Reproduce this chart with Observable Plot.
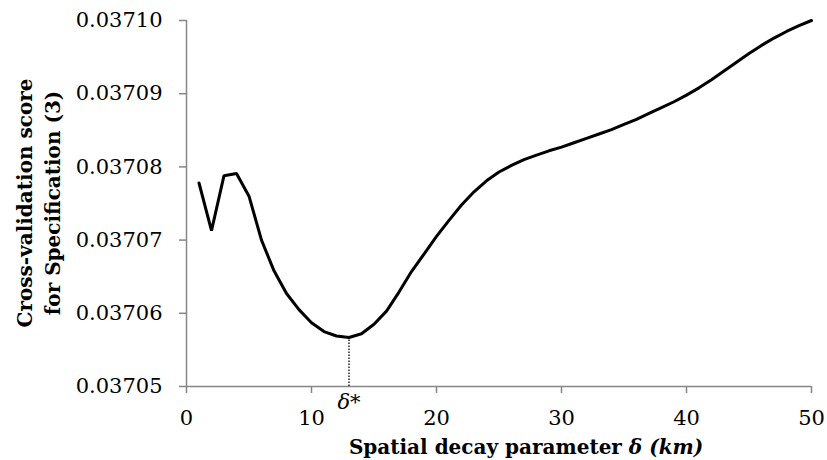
<!DOCTYPE html>
<html><head><meta charset="utf-8">
<script src="https://cdn.jsdelivr.net/npm/d3@7"></script>
<script src="https://cdn.jsdelivr.net/npm/@observablehq/plot@0.6"></script>
<style>body{margin:0;background:#fff} svg{display:block}</style>
</head><body><div id="chart"></div>
<script>
// Spatial decay parameter δ (km)
const delta = [1,2,3,4,5,6,7,8,9,10,11,12,13,14,15,16,17,18,19,20,21,22,23,24,25,26,27,28,29,30,31,32,33,34,35,36,37,38,39,40,41,42,43,44,45,46,47,48,49,50];
// Cross-validation score for Specification (3)
const score = [0.0370778,0.0370713,0.0370788,0.0370791,0.0370760,0.0370700,0.0370658,0.0370627,0.0370605,0.0370587,0.0370575,0.0370569,0.0370567,0.0370572,0.0370585,0.0370603,0.0370629,0.0370657,0.0370681,0.0370705,0.0370727,0.0370748,0.0370766,0.0370781,0.0370793,0.0370802,0.0370810,0.0370816,0.0370822,0.0370827,0.0370833,0.0370839,0.0370845,0.0370851,0.0370858,0.0370865,0.0370873,0.0370881,0.0370889,0.0370898,0.0370908,0.0370919,0.0370931,0.0370943,0.0370955,0.0370966,0.0370976,0.0370985,0.0370993,0.0371000];
const yTicks = [0.03705,0.03706,0.03707,0.03708,0.03709,0.03710];
const xTicks = [0,10,20,30,40,50];
const deltaStar = 13;
const xTitle = ["Spatial decay parameter ", "δ (km)"];
const yTitle = ["Cross-validation score", "for Specification (3)"];

const data = delta.map((d, i) => ({delta: d, score: score[i]}));
const starScore = score[delta.indexOf(deltaStar)];
const axisGray = "#868686";

const chart = Plot.plot({
  width: 827, height: 460,
  marginLeft: 186, marginRight: 16, marginTop: 20, marginBottom: 74,
  style: {fontFamily: "DejaVu Serif", fontSize: "21px", background: "white", color: "black"},
  x: {domain: [0, 50]},
  y: {domain: [0.03705, 0.03710]},
  marks: [
    Plot.axisY(yTicks, {tickSize: 7, tickPadding: 17, tickFormat: d => d.toFixed(5), stroke: axisGray, strokeWidth: 1.5, fill: "black", label: null, fontSize: 21}),
    Plot.axisX(xTicks, {tickSize: 7, tickPadding: 17, stroke: axisGray, strokeWidth: 1.5, fill: "black", label: null, fontSize: 21}),
    Plot.ruleY([0.03705], {stroke: axisGray, strokeWidth: 1.5}),
    Plot.ruleX([0], {stroke: axisGray, strokeWidth: 1.5}),
    Plot.ruleX([deltaStar], {y1: 0.03705, y2: starScore, stroke: "black", strokeWidth: 1.3, strokeDasharray: "1.5,1.5"}),
    Plot.line(data, {x: "delta", y: "score", stroke: "black", strokeWidth: 3, strokeLinejoin: "miter"}),
    Plot.text([deltaStar], {x: d => d, y: 0.03705, dy: 16, text: () => "δ*", fontStyle: "italic", fontSize: 21, fill: "black"})
  ]
});
document.getElementById("chart").appendChild(chart);

const svg = d3.select(chart);
const xt = svg.append("text")
  .attr("x", 526).attr("y", 448)
  .attr("text-anchor", "middle").attr("dominant-baseline", "middle")
  .attr("font-family", "DejaVu Serif").attr("font-size", 20).attr("font-weight", "bold").attr("fill", "black");
xt.append("tspan").text(xTitle[0]);
xt.append("tspan").attr("font-style", "italic").text(xTitle[1]);

yTitle.forEach((t, i) => {
  svg.append("text")
    .attr("transform", `translate(${[26, 54][i]},203) rotate(-90)`)
    .attr("text-anchor", "middle").attr("dominant-baseline", "middle")
    .attr("font-family", "DejaVu Serif").attr("font-size", 20).attr("font-weight", "bold").attr("fill", "black")
    .text(t);
});
</script>
</body></html>
